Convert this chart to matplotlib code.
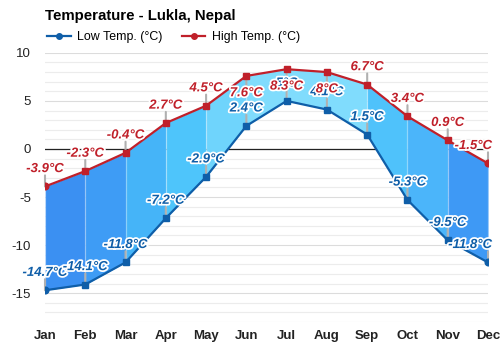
"""
Monthly low/high temperature range chart for Lukla, Nepal.
"""

import numpy as np
import matplotlib.pyplot as plt
import matplotlib.patheffects as pe

plt.rcParams['font.family'] = ['Liberation Sans', 'DejaVu Sans']

months = ['Jan', 'Feb', 'Mar', 'Apr', 'May', 'Jun',
          'Jul', 'Aug', 'Sep', 'Oct', 'Nov', 'Dec']
high_temp = [-3.9, -2.3, -0.4, 2.7, 4.5, 7.6, 8.3, 8.0, 6.7, 3.4, 0.9, -1.5]
low_temp = [-14.7, -14.1, -11.8, -7.2, -2.9, 2.4, 5.0, 4.1, 1.5, -5.3, -9.5, -11.8]
y_ticks = [10, 5, 0, -5, -10, -15]

# fill colour of each month-to-month band
seg_colors = ['#3b90f2', '#3e9cf5', '#45b4f8', '#4ec5fb', '#6fd4fc', '#80dcfd',
              '#80dcfd', '#80dcfd', '#4fc2fb', '#4bb5fa', '#3e99f5']

LOW_C = '#0f5ea8'
HIGH_C = '#c0202a'
Y_TOP = 10


def fmt(v):
    s = f'{v:.1f}'
    if s.endswith('.0'):
        s = s[:-2]
    return s + '°C'


fig = plt.figure(figsize=(5, 3.5), dpi=100)
ax = fig.add_axes([0.09, 0.08, 0.886, 0.769])

x = np.arange(len(months))

# grid
for v in range(-18, 11):
    ax.axhline(v, color='#dcdcdc' if v % 5 == 0 else '#ececec', lw=0.8, zorder=0)
ax.axhline(0, color='#222222', lw=0.9, zorder=1)

# bands between low and high
for i in range(len(x) - 1):
    ax.fill_between(x[i:i + 2], low_temp[i:i + 2], high_temp[i:i + 2],
                    color=seg_colors[i], lw=0, zorder=2)
ax.vlines(x, low_temp, high_temp, color='white', alpha=0.35, lw=0.9, zorder=3)

# lines
ax.plot(x, low_temp, color=LOW_C, lw=1.6, zorder=5)
ax.plot(x, high_temp, color=HIGH_C, lw=1.6, zorder=5)
ax.plot(x[1:-1], low_temp[1:-1], 's', color=LOW_C, ms=3.8, zorder=6)
ax.plot(x[1:-1], high_temp[1:-1], 's', color=HIGH_C, ms=3.8, zorder=6)
ax.plot(x[[0, -1]], np.array(low_temp)[[0, -1]], 'o', color=LOW_C, ms=4.8, zorder=6)
ax.plot(x[[0, -1]], np.array(high_temp)[[0, -1]], 'o', color=HIGH_C, ms=4.8, zorder=6)

# value labels
outline = [pe.withStroke(linewidth=2.5, foreground='white')]


def label(xi, v, color, z):
    # labels that would run past the top of the plot go below the point
    sign = -1 if v + 2.6 > Y_TOP else 1
    ax.annotate('', xy=(xi, v), xytext=(0, 8 * sign), textcoords='offset points',
                arrowprops=dict(arrowstyle='-', color='#b0b0b0', lw=1.5,
                                shrinkA=0, shrinkB=0), zorder=4)
    last = xi == x[-1]
    ax.annotate(fmt(v), xy=(xi, v), xytext=(3 if last else 0, 12.5 * sign),
                textcoords='offset points',
                ha='right' if last else 'center', va='center',
                fontsize=9.5, fontweight='bold', fontstyle='italic',
                color=color, path_effects=outline,
                annotation_clip=False, zorder=z)


for xi, lo in zip(x, low_temp):
    label(xi, lo, LOW_C, 7)
for xi, hi in zip(x, high_temp):
    label(xi, hi, HIGH_C, 8)

ax.set_xlim(0, 11)
ax.set_ylim(-18, Y_TOP)
ax.set_xticks(x)
ax.set_xticklabels(months, fontsize=9.5, fontweight='bold', color='#222222')
ax.set_yticks(y_ticks)
ax.set_yticklabels([str(t) for t in y_ticks], fontsize=9.5, color='#222222')
ax.tick_params(length=0, pad=10)
ax.tick_params(axis='x', pad=6)
for s in ax.spines.values():
    s.set_visible(False)

fig.text(0.09, 0.955, 'Temperature - Lukla, Nepal', fontsize=10.8,
         fontweight='bold', va='center', ha='left')

h1, = ax.plot([], [], color=LOW_C, marker='o', ms=4, lw=1.6, label='Low Temp. (°C)')
h2, = ax.plot([], [], color=HIGH_C, marker='o', ms=4, lw=1.6, label='High Temp. (°C)')
fig.legend(handles=[h1, h2], loc='center left', bbox_to_anchor=(0.072, 0.893),
           ncol=2, frameon=False, fontsize=8.9, handlelength=1.9,
           handletextpad=0.5, columnspacing=1.6)

fig.savefig('out.png', dpi=100)
